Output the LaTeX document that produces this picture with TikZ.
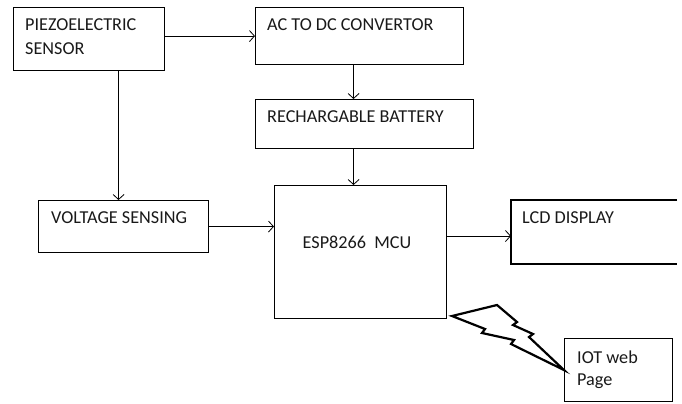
\documentclass[tikz,border=0pt]{standalone}
\usepackage{fontspec}
\setmainfont{Carlito}
\usetikzlibrary{arrows.meta}
\begin{document}
\begin{tikzpicture}[x=1bp,y=-1bp,
  blk/.style={draw,line width=1.1bp,minimum width=#1,inner sep=0pt,anchor=north west},
  lbl/.style={anchor=base west,inner sep=0pt,font=\fontsize{18.2bp}{22bp}\selectfont,text=black!90},
  con/.style={line width=0.8bp,-{Straight Barb[length=5bp,width=11bp,line width=0.8bp]}}]
\useasboundingbox (0,0) rectangle (682,403);
% boxes
\node[blk=151bp,minimum height=63bp] (piezo) at (13,7) {};
\node[blk=208bp,minimum height=57bp] (ac) at (255,7) {};
\node[blk=218bp,minimum height=49bp] (bat) at (255,99) {};
\node[blk=170bp,minimum height=52bp] (volt) at (38,200) {};
\node[blk=172bp,minimum height=133bp] (esp) at (274,185) {};
\node[blk=108bp,minimum height=63bp] (iot) at (564,338) {};
% LCD box, cut at the right edge
\coordinate (lcdnw) at (511,200);
\coordinate (lcdsw) at (511,264);
\coordinate (lcdw) at (511,236);
\coordinate (lcdne) at (677,200);
\coordinate (lcdse) at (677,264);
\draw[line width=1.1bp] (lcdne) -- (lcdnw) -- (lcdsw) -- (lcdse);
% labels
\node[lbl] (tpiezo) at (25,30) {PIEZOELECTRIC};
\node[lbl] (tpiezob) at (25,54) {SENSOR};
\node[lbl] (tac) at (267,30) {AC TO DC CONVERTOR};
\node[lbl] (tbat) at (267,122) {RECHARGABLE BATTERY};
\node[lbl] (tvolt) at (51,223) {VOLTAGE SENSING};
\node[lbl,anchor=base] (tesp) at (357,248) {ESP8266\ \ MCU};
\node[lbl] (tlcd) at (522,223) {LCD DISPLAY};
\node[lbl] (tiot) at (577,363) {IOT web};
\node[lbl] (tiotb) at (577,385) {Page};
% connectors
\draw[con] (piezo.east |- ac.west) -- (ac.west);
\draw[con] ([xshift=-6bp]ac.south) -- ([xshift=-11bp]bat.north);
\draw[con] ([xshift=-11bp]bat.south) -- ([xshift=-7bp]esp.north);
\draw[con] ([xshift=-5bp]volt.north |- piezo.south) -- ([xshift=-5bp]volt.north);
\draw[con] (volt.east) -- (volt.east -| esp.west);
\draw[con] (esp.east |- lcdw) -- (lcdw);
% lightning bolt
\draw[line width=2.2bp,fill=white,line join=miter]
  (452,316) -- (497,305) -- (517,322) -- (513,325) -- (533,334) -- (529,337)
  -- (iot.west) -- (511,344) -- (514,340) -- (482,333) -- (485,329) -- cycle;
\end{tikzpicture}
\end{document}
